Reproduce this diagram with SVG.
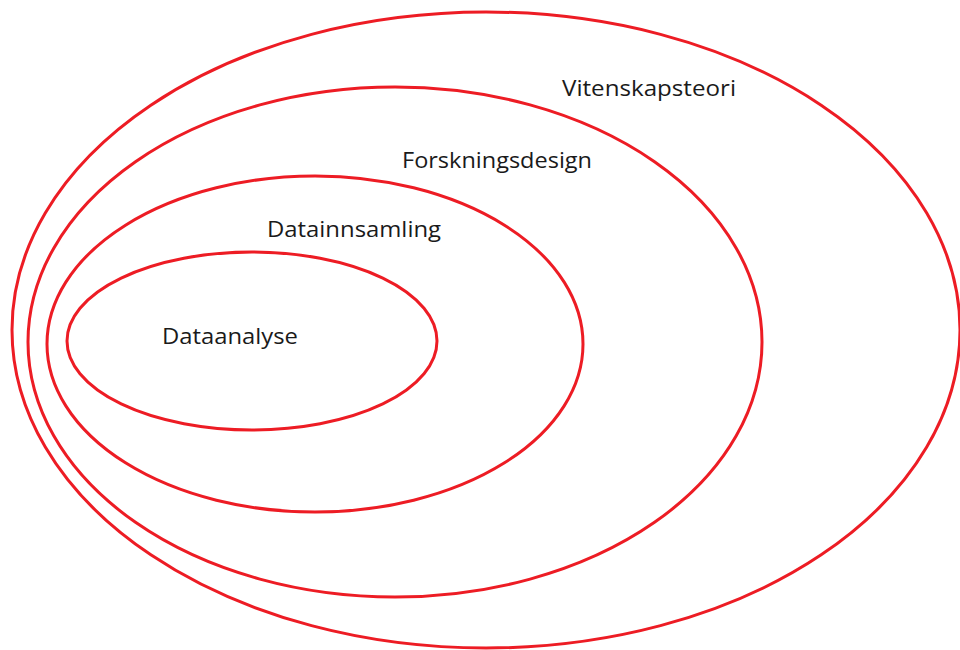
<svg xmlns="http://www.w3.org/2000/svg" width="960" height="650" viewBox="0 0 960 650">
<style>
.ring{fill:none;stroke:#ed1c24;stroke-width:3}
.lbl{font-family:"Open Sans","Liberation Sans",sans-serif;font-size:21px;fill:#1a1a1a}
</style>
<rect width="960" height="650" fill="#fff"/>
<g id="vitenskapsteori"><ellipse class="ring" cx="486" cy="330" rx="474" ry="318"/><text class="lbl" x="562" y="96" textLength="174" lengthAdjust="spacingAndGlyphs">Vitenskapsteori</text></g>
<g id="forskningsdesign"><ellipse class="ring" cx="395" cy="342" rx="367" ry="255"/><text class="lbl" x="402" y="168" textLength="190" lengthAdjust="spacingAndGlyphs">Forskningsdesign</text></g>
<g id="datainnsamling"><ellipse class="ring" cx="315" cy="344" rx="268" ry="168"/><text class="lbl" x="267" y="237" textLength="174" lengthAdjust="spacingAndGlyphs">Datainnsamling</text></g>
<g id="dataanalyse"><ellipse class="ring" cx="252" cy="341" rx="185" ry="89"/><text class="lbl" x="162" y="344" textLength="136" lengthAdjust="spacingAndGlyphs">Dataanalyse</text></g>
<g id="connectors"/>
</svg>
